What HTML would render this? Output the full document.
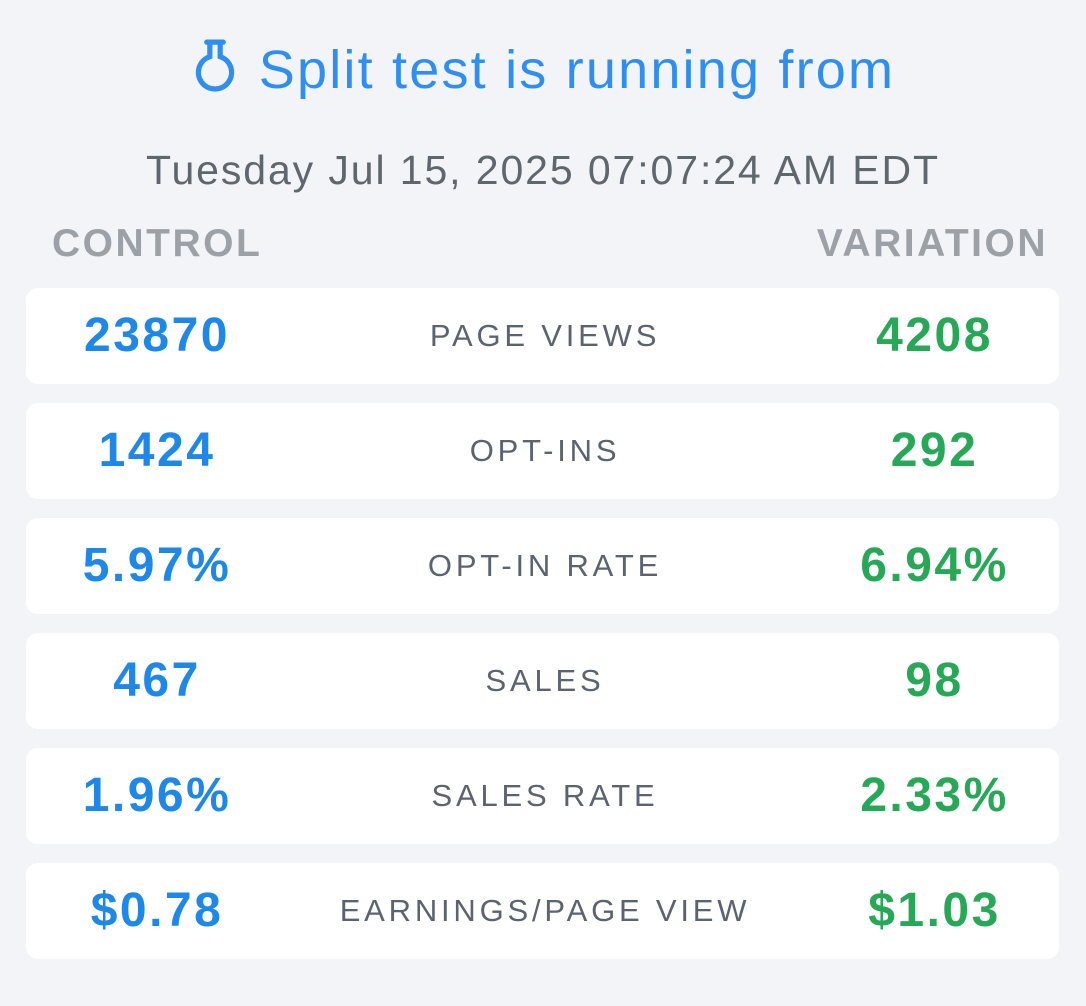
<!DOCTYPE html>
<html><head><style>
html,body{margin:0;width:1086px;height:1006px;overflow:hidden}
body{background:#f2f4f7;font-family:"Liberation Sans",sans-serif;position:relative}
.t{position:absolute;left:0;width:1086px;text-align:center;top:38px;font-size:54px;color:#2f8ff0;line-height:64px;letter-spacing:2.2px;white-space:nowrap}
.d{position:absolute;left:0;width:1086px;text-align:center;top:146px;font-size:41px;color:#5f676e;line-height:48px;letter-spacing:1.9px;white-space:nowrap}
.h{position:absolute;top:222px;font-size:39px;font-weight:bold;color:#9ca1a8;line-height:44px;letter-spacing:2.5px}
.c{position:absolute;left:26px;width:1033px;height:96px;background:#fff;border-radius:12px}
.c div{position:absolute;top:0;line-height:96px;text-align:center;white-space:nowrap}
.l{left:0;width:262px;font-size:48px;font-weight:bold;color:#1e88e8;letter-spacing:2.5px}
.m{left:267px;width:504px;font-size:31px;letter-spacing:3.8px;color:#5c6370}
.r{left:780px;width:257px;font-size:48px;font-weight:bold;color:#27a857;letter-spacing:2.5px}
</style></head><body>
<div class="t"><svg width="48" height="56" viewBox="0 0 44 54" style="vertical-align:-6px;margin-right:20px"><path d="M14 4h16M17 4v14a16 16 0 1 0 10 0V4" fill="none" stroke="#2f8ff0" stroke-width="5" stroke-linecap="round"/></svg>Split test is running from</div>
<div class="d">Tuesday Jul 15, 2025 07:07:24 AM EDT</div>
<div class="h" style="left:52px">CONTROL</div>
<div class="h" style="right:38px">VARIATION</div>
<div class="c" style="top:288px"><div class="l">23870</div><div class="m">PAGE VIEWS</div><div class="r">4208</div></div>
<div class="c" style="top:403px"><div class="l">1424</div><div class="m">OPT-INS</div><div class="r">292</div></div>
<div class="c" style="top:518px"><div class="l">5.97%</div><div class="m">OPT-IN RATE</div><div class="r">6.94%</div></div>
<div class="c" style="top:633px"><div class="l">467</div><div class="m">SALES</div><div class="r">98</div></div>
<div class="c" style="top:748px"><div class="l">1.96%</div><div class="m">SALES RATE</div><div class="r">2.33%</div></div>
<div class="c" style="top:863px"><div class="l">$0.78</div><div class="m">EARNINGS/PAGE VIEW</div><div class="r">$1.03</div></div>
</body></html>
